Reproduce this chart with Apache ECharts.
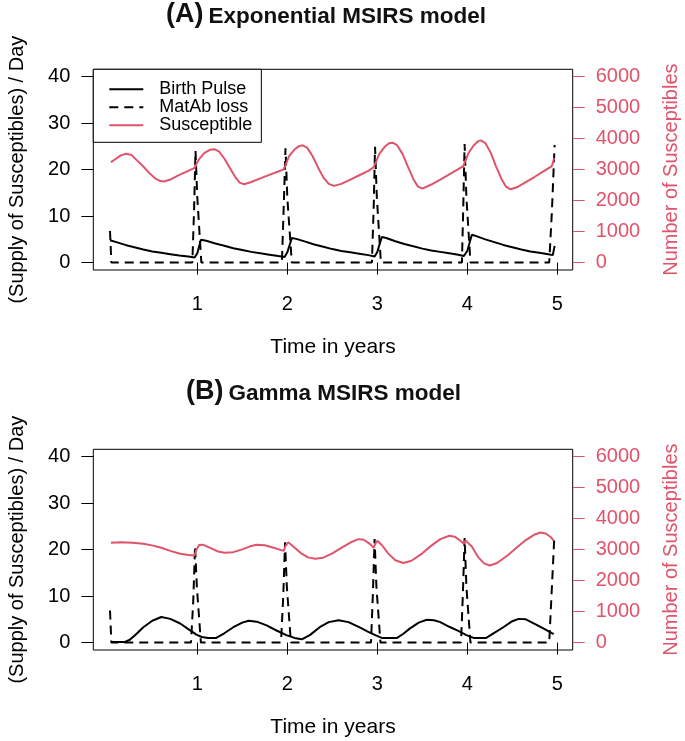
<!DOCTYPE html>
<html>
<head>
<meta charset="utf-8">
<script src="https://cdn.jsdelivr.net/npm/echarts@6/dist/echarts.min.js"></script>
<style>html,body{margin:0;padding:0;background:#fff}#c{width:685px;height:741px}</style>
</head>
<body>
<div id="c"></div>
<script>
// ---- Tick values ----
var xTicks = [1, 2, 3, 4, 5];
var leftTicks = [0, 10, 20, 30, 40];
var rightTicks = [0, 1000, 2000, 3000, 4000, 5000, 6000];

// ---- Panel titles / labels ----
var panelTags = ['(A)', '(B)'];
var panelNames = ['Exponential MSIRS model', 'Gamma MSIRS model'];
var seriesNames = ['Birth Pulse', 'MatAb loss', 'Susceptible'];

// ---- Panel A: Exponential MSIRS model  ([time in years, value]) ----
var birthA = [[0.03,4.8],[0.1,4.4],[0.2,3.8],[0.3,3.3],[0.4,2.8],[0.5,2.4],[0.6,2.1],[0.7,1.8],[0.8,1.5],[0.9,1.3],[0.97,1.1],
  [1.0,2.0],[1.04,4.9],[1.1,4.7],[1.2,4.1],[1.3,3.6],[1.4,3.1],[1.5,2.7],[1.6,2.3],[1.7,2.0],[1.8,1.7],[1.9,1.4],[1.97,1.2],
  [2.0,2.2],[2.05,5.3],[2.1,5.1],[2.2,4.5],[2.3,3.9],[2.4,3.4],[2.5,2.9],[2.6,2.5],[2.7,2.2],[2.8,1.9],[2.9,1.6],[2.97,1.3],
  [3.0,2.3],[3.05,5.5],[3.1,5.3],[3.2,4.6],[3.3,4.0],[3.4,3.5],[3.5,3.0],[3.6,2.6],[3.7,2.3],[3.8,2.0],[3.9,1.7],[3.96,1.4],
  [4.0,2.5],[4.05,6.0],[4.1,5.7],[4.2,5.0],[4.3,4.4],[4.4,3.8],[4.5,3.3],[4.6,2.8],[4.7,2.4],[4.8,2.1],[4.9,1.8],[4.95,1.6],[4.97,3.6]];
var matabA = [[0.03,6.8],[0.045,0],[0.945,0],[0.965,12],[0.98,24.1],[1.0,14],[1.045,0],
  [1.94,0],[1.96,12],[1.98,24.6],[2.0,14],[2.05,0],
  [2.94,0],[2.96,12],[2.975,24.9],[2.995,14],[3.04,0],
  [3.94,0],[3.955,12],[3.97,25.5],[3.99,14],[4.035,0],
  [4.91,0],[4.94,11],[4.97,25.3]];
var suscA = [[0.04,3245],[0.1,3360],[0.15,3460],[0.21,3515],[0.27,3470],[0.33,3300],[0.4,3100],[0.47,2880],[0.53,2720],[0.59,2630],[0.63,2615],[0.7,2680],[0.8,2830],[0.9,2960],[0.97,3060],
  [0.99,3180],[1.02,3340],[1.08,3540],[1.14,3640],[1.19,3660],[1.24,3590],[1.3,3360],[1.36,3060],[1.42,2770],[1.47,2580],[1.52,2530],[1.6,2600],[1.7,2720],[1.8,2830],[1.9,2940],[1.96,3010],
  [1.99,3220],[2.02,3440],[2.08,3650],[2.13,3760],[2.17,3785],[2.22,3710],[2.28,3440],[2.34,3080],[2.4,2750],[2.46,2540],[2.52,2475],[2.6,2540],[2.7,2680],[2.8,2820],[2.9,2960],[2.955,3065],
  [2.99,3280],[3.02,3500],[3.08,3730],[3.13,3850],[3.17,3870],[3.22,3790],[3.28,3510],[3.34,3100],[3.4,2700],[3.45,2460],[3.5,2390],[3.6,2520],[3.7,2680],[3.8,2850],[3.9,3020],[3.955,3116],
  [3.98,3300],[4.01,3520],[4.07,3780],[4.12,3920],[4.15,3945],[4.2,3860],[4.26,3550],[4.32,3100],[4.38,2700],[4.43,2450],[4.48,2365],[4.55,2430],[4.65,2600],[4.75,2770],[4.85,2950],[4.94,3116],[4.965,3374]];

// ---- Panel B: Gamma MSIRS model ----
var birthB = [[0.04,0.1],[0.19,0.1],[0.25,0.6],[0.32,1.8],[0.4,3.3],[0.5,4.7],[0.6,5.5],[0.7,5.1],[0.81,4.1],[0.9,2.9],[0.99,1.7],
  [1.05,1.2],[1.12,1.0],[1.21,1.0],[1.3,2.0],[1.4,3.3],[1.5,4.3],[1.57,4.7],[1.66,4.5],[1.77,3.7],[1.88,2.6],[1.99,1.6],
  [2.08,1.0],[2.16,0.7],[2.25,1.6],[2.36,3.3],[2.46,4.4],[2.57,4.8],[2.68,4.4],[2.81,3.2],[2.9,2.3],[2.99,1.5],
  [3.05,1.0],[3.22,1.0],[3.29,1.9],[3.36,3.0],[3.46,4.3],[3.55,4.9],[3.63,4.8],[3.7,4.4],[3.8,3.4],[3.9,2.5],[3.99,1.6],
  [4.07,1.0],[4.21,1.0],[4.3,2.1],[4.4,3.3],[4.5,4.6],[4.57,5.1],[4.65,5.0],[4.77,3.8],[4.87,2.8],[4.96,1.8]];
var matabB = [[0.03,6.9],[0.045,0],[0.93,0],[0.955,9],[0.975,20.7],[0.995,12],[1.04,0],
  [1.93,0],[1.955,10],[1.975,21.6],[1.995,12],[2.04,0],
  [2.93,0],[2.95,10],[2.97,22.3],[2.99,12],[3.035,0],
  [3.93,0],[3.95,10],[3.97,22.5],[3.99,12],[4.035,0],
  [4.91,0],[4.935,10],[4.965,22.0]];
var suscB = [[0.04,3220],[0.15,3235],[0.28,3225],[0.4,3190],[0.51,3130],[0.6,3060],[0.7,2960],[0.81,2870],[0.9,2830],[0.97,2815],
  [0.99,3000],[1.02,3150],[1.06,3160],[1.15,3050],[1.22,2950],[1.3,2900],[1.4,2920],[1.5,3010],[1.6,3120],[1.66,3160],[1.75,3140],[1.85,3060],[1.96,2960],
  [1.98,3120],[2.01,3240],[2.06,3120],[2.15,2890],[2.23,2750],[2.31,2705],[2.4,2740],[2.5,2880],[2.6,3060],[2.7,3230],[2.79,3340],[2.85,3320],[2.92,3180],[2.96,3060],
  [2.98,3200],[3.0,3290],[3.05,3150],[3.12,2880],[3.2,2660],[3.29,2570],[3.38,2640],[3.5,2880],[3.6,3130],[3.7,3340],[3.8,3450],[3.86,3420],[3.93,3270],[3.96,3190],
  [3.98,3300],[4.0,3315],[4.05,3100],[4.12,2760],[4.19,2550],[4.25,2490],[4.33,2570],[4.45,2820],[4.55,3070],[4.65,3310],[4.75,3490],[4.81,3555],[4.87,3520],[4.93,3400],[4.96,3290]];

var PINK = '#DF536B';
var FONT = '"Liberation Sans", Arial, sans-serif';
var gridTops = [69.3, 449.3];

function makeTitle(i, left, top) {
  return {
    text: '{a|' + panelTags[i] + '} {b|' + panelNames[i] + '}',
    left: left, top: top, padding: 0,
    textStyle: {
      fontFamily: FONT,
      rich: {
        a: {fontFamily: FONT, fontSize: 27, fontWeight: 'bold', color: '#111', lineHeight: 30, verticalAlign: 'middle'},
        b: {fontFamily: FONT, fontSize: 22.5, fontWeight: 'bold', color: '#111', lineHeight: 30, verticalAlign: 'middle', padding: [3, 0, 0, 0]}
      }
    }
  };
}

var grids = gridTops.map(function (t) {
  return {left: 93.3, top: t, width: 479.4, height: 200.7, show: true, borderColor: '#000', borderWidth: 1,
    backgroundColor: 'transparent', containLabel: false, outerBoundsMode: 'none'};
});

var xAxes = [0, 1].map(function (g) {
  return {
    type: 'value', gridIndex: g, min: -0.1556, max: 5.171,
    axisLine: {show: true, lineStyle: {color: 'rgba(0,0,0,0)'}}, splitLine: {show: false},
    axisTick: {show: true, inside: false, length: 12, customValues: xTicks, lineStyle: {color: '#000', width: 1}},
    axisLabel: {customValues: xTicks, fontSize: 20, color: '#000', margin: 24, fontFamily: FONT},
    name: 'Time in years', nameLocation: 'middle', nameGap: 67,
    nameTextStyle: {fontSize: 21, color: '#000', fontFamily: FONT}
  };
});

var yAxes = [];
[0, 1].forEach(function (g) {
  yAxes.push({
    type: 'value', gridIndex: g, position: 'left', min: -1.6, max: 41.6,
    axisLine: {show: true, onZero: false, lineStyle: {color: 'rgba(0,0,0,0)'}}, splitLine: {show: false},
    axisTick: {show: true, inside: false, length: 12, customValues: leftTicks, lineStyle: {color: '#000', width: 1}},
    axisLabel: {customValues: leftTicks, fontSize: 20, color: '#000', margin: 23, fontFamily: FONT},
    name: '(Supply of Susceptibles) / Day', nameLocation: 'middle', nameGap: 66,
    nameTextStyle: {fontSize: 20, color: '#000', fontFamily: FONT}
  });
  yAxes.push({
    type: 'value', gridIndex: g, position: 'right', min: -240, max: 6240,
    axisLine: {show: true, onZero: false, lineStyle: {color: 'rgba(0,0,0,0)'}}, splitLine: {show: false},
    axisTick: {show: true, inside: false, length: 12, customValues: rightTicks, lineStyle: {color: PINK, width: 1}},
    axisLabel: {customValues: rightTicks, fontSize: 20, color: PINK, margin: 23, fontFamily: FONT,
      formatter: function (v) { return String(v); }},
    name: 'Number of Susceptibles', nameLocation: 'middle', nameGap: 89,
    nameTextStyle: {fontSize: 20, color: PINK, fontFamily: FONT}
  });
});

function lineSeries(name, data, xi, yi, color, dashed) {
  return {
    name: name, type: 'line', data: data, xAxisIndex: xi, yAxisIndex: yi,
    symbol: 'none', showSymbol: false, smooth: false, animation: false,
    color: color,
    lineStyle: {color: color, width: 2, type: dashed ? [9, 6] : 'solid', cap: 'butt'}
  };
}

var option = {
  animation: false,
  backgroundColor: '#fff',
  title: [makeTitle(0, 166, 0), makeTitle(1, 186, 377)],
  grid: grids,
  xAxis: xAxes,
  yAxis: yAxes,
  legend: {
    data: seriesNames, left: 93.3, top: 69.3, orient: 'vertical',
    backgroundColor: '#fff', borderColor: '#000', borderWidth: 1, borderRadius: 0,
    padding: [11, 9, 8, 15], itemGap: 0, itemWidth: 34, itemHeight: 14,
    selectedMode: false,
    itemStyle: {opacity: 0, borderWidth: 0},
    lineStyle: {opacity: 1, width: 2},
    textStyle: {fontSize: 18, color: '#000', fontFamily: FONT, lineHeight: 17.5, padding: [0, 0, 0, 11]}
  },
  series: [
    lineSeries(seriesNames[0], birthA, 0, 0, '#000', false),
    lineSeries(seriesNames[1], matabA, 0, 0, '#000', true),
    lineSeries(seriesNames[2], suscA, 0, 1, PINK, false),
    lineSeries(seriesNames[0], birthB, 1, 2, '#000', false),
    lineSeries(seriesNames[1], matabB, 1, 2, '#000', true),
    lineSeries(seriesNames[2], suscB, 1, 3, PINK, false)
  ]
};

var chart = echarts.init(document.getElementById('c'), null, {renderer: 'canvas'});
chart.setOption(option);
</script>
</body>
</html>
